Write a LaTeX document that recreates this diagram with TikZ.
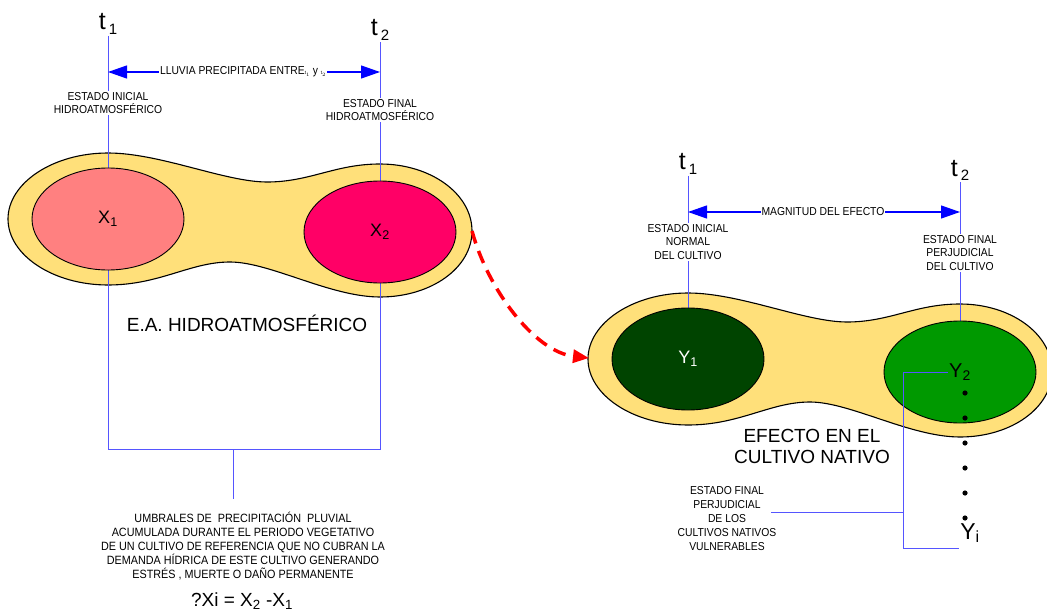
\documentclass[tikz,border=0pt]{standalone}
\usepackage{fontspec}
\setmainfont{Liberation Sans}
\newfontfamily\narrowfont[FakeStretch=0.9]{Liberation Sans}
\usetikzlibrary{shapes.geometric, arrows.meta, positioning}

\definecolor{blobyellow}{RGB}{255,224,122}
\definecolor{lightred}{RGB}{255,128,128}
\definecolor{deeppink}{RGB}{255,0,102}
\definecolor{darkgreen}{RGB}{0,68,0}
\definecolor{midgreen}{RGB}{0,153,0}
\definecolor{guideblue}{RGB}{85,85,255}

\pgfdeclarelayer{back}
\pgfdeclarelayer{guides}
\pgfsetlayers{back,guides,main}

% outline of one two-lobed region
\newcommand{\blobpath}{(8,219) .. controls (8,183) and (53,153) .. (108,153)
  .. controls (160,153) and (225,182) .. (267,182)
  .. controls (310,182) and (335,164) .. (380,164)
  .. controls (431,164) and (472,194) .. (472,231)
  .. controls (472,268) and (431,297) .. (380,297)
  .. controls (330,297) and (270,262) .. (230,262)
  .. controls (190,262) and (160,285) .. (108,285)
  .. controls (53,285) and (8,255) .. (8,219) -- cycle}
\newcommand{\tsub}[1]{t\kern3pt\raisebox{-5pt}{\fontsize{15}{15}\selectfont #1}}

\begin{document}
\begin{tikzpicture}[
  x=1pt, y=-1pt,
  guide/.style={guideblue, line width=0.9pt},
  spanarrow/.style={{Triangle[length=19pt,width=13pt]}-{Triangle[length=19pt,width=13pt]}, blue, line width=1.2pt},
  redarrow/.style={-{Triangle[length=16pt,width=13pt]}, red, line width=3.5pt, dash pattern=on 13pt off 8pt},
  blob/.style={draw=black, line width=1.1pt, fill=blobyellow},
  stateell/.style={ellipse, draw=black, line width=0.9pt, minimum width=152pt, minimum height=102pt,
                   inner sep=0pt, font=\fontsize{18}{18}\selectfont},
  tlabel/.style={font=\fontsize{25}{25}\selectfont, anchor=base, inner sep=0pt},
  note/.style={font=\narrowfont\fontsize{11.5}{13.5}\selectfont, align=center, fill=white, inner sep=1pt},
  bigtext/.style={font=\fontsize{19}{21}\selectfont, align=center},
]
  \useasboundingbox (0,0) rectangle (1047,615);

  % yellow regions
  \begin{pgfonlayer}{back}
    \path[blob] \blobpath;
    \path[blob, shift={(580,140)}] \blobpath;
  \end{pgfonlayer}

  % time marks
  \node[tlabel] (lt1) at (108,30) {\tsub{1}};
  \node[tlabel] (lt2) at (380,36) {\tsub{2}};
  \node[tlabel] (rt1) at (688,170) {\tsub{1}};
  \node[tlabel] (rt2) at (960,176) {\tsub{2}};

  \coordinate (la) at (108,36);
  \coordinate (lb) at (380,42);
  \coordinate (lc) at (108,449);
  \coordinate (ld) at (380,449);
  \coordinate (lm) at (233,449);
  \coordinate (ra) at (688,176);
  \coordinate (rb) at (960,182);

  % states
  \node[stateell, fill=lightred] (x1) at (108,219) {X\textsubscript{1}};
  \node[stateell, fill=deeppink] (x2) at (380,232) {X\textsubscript{2}};
  \node[stateell, fill=darkgreen, text=white] (y1) at (688,359) {Y\textsubscript{1}};
  \node[stateell, fill=midgreen] (y2) at (960,372) {};
  \node[font=\fontsize{20}{20}\selectfont, inner sep=1pt] (y2lbl) at (960,372) {Y\textsubscript{2}};
  \node[font=\fontsize{23}{23}\selectfont, inner sep=1pt] (yi) at (970,533) {Y\textsubscript{i}};
  \foreach \yy in {393,418,...,518}
    \fill (965,\yy) circle (2.6pt);

  % labels
  \node[note] (lluvia) at (243,72) {LLUVIA PRECIPITADA ENTRE{\tiny t$_1$} y {\tiny t$_2$}};
  \node[note] (magn) at (823,212) {MAGNITUD DEL EFECTO};
  \node[note] (lini) at (108,103) {ESTADO INICIAL\\HIDROATMOSFÉRICO};
  \node[note] (lfin) at (380,110) {ESTADO FINAL\\HIDROATMOSFÉRICO};
  \node[note] (rini) at (688,242) {ESTADO INICIAL\\NORMAL\\DEL CULTIVO};
  \node[note] (rfin) at (960,253) {ESTADO FINAL\\PERJUDICIAL\\DEL CULTIVO};
  \node[note, fill=none, font=\narrowfont\fontsize{11.5}{14}\selectfont] (perj) at (727,519)
    {ESTADO FINAL\\PERJUDICIAL\\DE LOS\\CULTIVOS NATIVOS\\VULNERABLES};
  \node[bigtext] (ealabel) at (247,323) {E.A. HIDROATMOSFÉRICO};
  \node[bigtext] (eflabel) at (812,446) {EFECTO EN EL\\CULTIVO NATIVO};
  \node[note, fill=none, font=\narrowfont\fontsize{12}{14.2}\selectfont] (umbral) at (243,546)
    {UMBRALES DE \ PRECIPITACIÓN \ PLUVIAL\\ACUMULADA DURANTE EL PERIODO VEGETATIVO\\
     DE UN CULTIVO DE REFERENCIA QUE NO CUBRAN LA\\DEMANDA HÍDRICA DE ESTE CULTIVO GENERANDO\\
     ESTRÉS , MUERTE O DAÑO PERMANENTE};
  \node[font=\fontsize{19}{19}\selectfont] (delta) at (242,601) {?Xi = X\textsubscript{2} -X\textsubscript{1}};

  \coordinate (yk) at (903,372);
  \coordinate (perjend) at (771,512);
  \coordinate (bla) at (472,231);
  \coordinate (blb) at (589,358);

  % guide lines
  \begin{pgfonlayer}{guides}
    \draw[guide] (la) -- (lc) -- (ld) -- (lb);
    \draw[guide] (lm) -- ++(0,50);
    \draw[guide] (ra) -- (y1);
    \draw[guide] (rb) -- (y2);
    \draw[spanarrow] (la |- lluvia) -- (lb |- lluvia);
    \draw[spanarrow] (ra |- magn) -- (rb |- magn);
  \end{pgfonlayer}
  \draw[guide] (y2lbl.west) -- (yk) |- ([yshift=-4pt]yi.south west);
  \draw[guide] (perjend) -- (perjend -| yk);

  \draw[redarrow] (bla) .. controls (488,290) and (535,352) .. (blb);
\end{tikzpicture}
\end{document}
